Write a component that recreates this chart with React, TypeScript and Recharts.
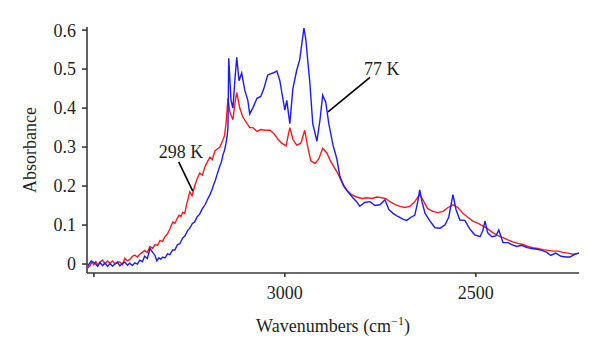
import { LineChart, Line, XAxis, YAxis, ReferenceLine, ReferenceDot } from "recharts";

// 77 K spectrum (blue)
const blueWn = [
  3516, 3507, 3497, 3490, 3484, 3477, 3471, 3464, 3458, 3451, 3445, 3438, 3432, 3425, 3419, 3412,
  3406, 3399, 3393, 3386, 3380, 3373, 3367, 3360, 3353, 3346, 3340, 3335, 3330, 3325, 3320, 3314,
  3307, 3301, 3294, 3288, 3281, 3275, 3268, 3262, 3255, 3249, 3242, 3236, 3229, 3223, 3216, 3209,
  3203, 3196, 3191, 3186, 3182, 3178, 3174, 3170, 3166, 3162, 3158, 3154, 3151, 3149,
  3147, 3141, 3136, 3131, 3126, 3120, 3113, 3105, 3097, 3092, 3084, 3073, 3063, 3055, 3045, 3031,
  3021, 3013, 3008, 3000, 2995, 2987, 2979, 2969, 2961, 2955, 2950, 2945, 2940, 2935, 2927, 2916,
  2908, 2901, 2893, 2885, 2874, 2864, 2856, 2846, 2835, 2822, 2812, 2804, 2791, 2777, 2764, 2751,
  2738, 2728, 2717, 2704, 2691, 2681, 2670, 2660, 2652, 2647, 2641, 2633, 2620, 2607, 2594, 2581,
  2571, 2560, 2552, 2542, 2529, 2516, 2503, 2489, 2482, 2476, 2469, 2458, 2448, 2440, 2429, 2416,
  2406, 2393, 2380, 2366, 2353, 2340, 2327, 2314, 2304, 2291, 2277, 2264, 2254, 2241, 2230,
];
const blueAbs = [
  -0.005, 0.008, 0.002, -0.006, 0.004, -0.004, 0.003, -0.006, 0.001, -0.005, 0.0, 0.004, -0.005, 0.002, 0.005, -0.003,
  0.002, -0.004, 0.003, 0.0, 0.01, 0.006, 0.02, 0.014, 0.04, 0.03, 0.022, 0.008, 0.016, 0.012, 0.018, 0.016,
  0.026, 0.024, 0.036, 0.036, 0.05, 0.052, 0.066, 0.072, 0.085, 0.092, 0.104, 0.108, 0.122, 0.128, 0.142, 0.152,
  0.165, 0.178, 0.19, 0.205, 0.215, 0.228, 0.24, 0.252, 0.262, 0.28, 0.292, 0.31, 0.33, 0.35,
  0.528, 0.42, 0.4, 0.47, 0.53, 0.47, 0.49, 0.446, 0.42, 0.385, 0.4, 0.425, 0.43, 0.45, 0.485, 0.49,
  0.495, 0.47, 0.44, 0.395, 0.42, 0.36, 0.45, 0.497, 0.525, 0.57, 0.605, 0.575, 0.52, 0.47, 0.36, 0.315,
  0.37, 0.433, 0.415, 0.36, 0.305, 0.27, 0.225, 0.2, 0.185, 0.17, 0.16, 0.148, 0.158, 0.16, 0.15, 0.152,
  0.165, 0.14, 0.13, 0.122, 0.115, 0.112, 0.12, 0.125, 0.16, 0.19, 0.16, 0.13, 0.11, 0.093, 0.092, 0.1,
  0.12, 0.178, 0.14, 0.113, 0.112, 0.09, 0.075, 0.07, 0.085, 0.11, 0.08, 0.07, 0.072, 0.087, 0.055, 0.055,
  0.05, 0.045, 0.048, 0.042, 0.04, 0.038, 0.035, 0.03, 0.022, 0.028, 0.02, 0.018, 0.018, 0.025, 0.028,
];

// 298 K spectrum (red)
const redWn = [
  3516, 3510, 3505, 3500, 3495, 3490, 3484, 3477, 3471, 3464, 3458, 3451, 3445, 3438, 3432, 3425,
  3419, 3412, 3406, 3399, 3393, 3386, 3380, 3373, 3367, 3360, 3353, 3346, 3340, 3333, 3327, 3320,
  3314, 3307, 3301, 3297, 3293, 3288, 3283, 3277, 3272, 3267, 3262, 3258, 3254, 3249, 3243, 3236,
  3229, 3223, 3216, 3209, 3203, 3196, 3190, 3183, 3177, 3170, 3166, 3162, 3158,
  3154, 3149, 3144, 3136, 3131, 3126, 3118, 3110, 3099, 3092, 3084, 3073, 3063, 3052, 3039, 3029,
  3018, 3008, 2997, 2987, 2979, 2969, 2958, 2948, 2940, 2932, 2921, 2911, 2901, 2890, 2882, 2872,
  2861, 2851, 2838, 2825, 2812, 2798, 2785, 2772, 2759, 2746, 2736, 2725, 2712, 2699, 2686, 2673,
  2660, 2647, 2636, 2626, 2613, 2599, 2586, 2573, 2560, 2547, 2534, 2521, 2508, 2495, 2482, 2469,
  2455, 2442, 2429, 2416, 2403, 2390, 2377, 2364, 2351, 2338, 2325, 2311, 2298, 2285, 2272, 2259,
  2246, 2230,
];
const redAbs = [
  -0.01, -0.004, 0.005, -0.002, 0.006, -0.003, 0.005, 0.01, 0.0, 0.008, 0.002, 0.008, 0.0, 0.006, 0.005, -0.002,
  0.015, 0.008, 0.012, 0.02, 0.023, 0.018, 0.025, 0.03, 0.035, 0.03, 0.045, 0.04, 0.05, 0.048, 0.06, 0.058,
  0.07, 0.078, 0.09, 0.1, 0.108, 0.104, 0.115, 0.125, 0.122, 0.133, 0.13, 0.15, 0.165, 0.185, 0.175, 0.2,
  0.22, 0.233, 0.228, 0.25, 0.262, 0.274, 0.268, 0.29, 0.295, 0.3, 0.31, 0.318, 0.33,
  0.36, 0.425, 0.39, 0.37, 0.41, 0.44, 0.4, 0.377, 0.36, 0.35, 0.35, 0.34, 0.345, 0.343, 0.343, 0.335,
  0.32, 0.31, 0.303, 0.35, 0.32, 0.305, 0.31, 0.343, 0.3, 0.265, 0.258, 0.27, 0.297, 0.285, 0.267, 0.25,
  0.232, 0.21, 0.19, 0.178, 0.172, 0.168, 0.17, 0.168, 0.172, 0.17, 0.168, 0.16, 0.153, 0.148, 0.145, 0.148,
  0.16, 0.178, 0.16, 0.142, 0.135, 0.132, 0.135, 0.145, 0.152, 0.145, 0.13, 0.12, 0.11, 0.105, 0.098, 0.09,
  0.08, 0.073, 0.068, 0.062, 0.057, 0.053, 0.05, 0.045, 0.042, 0.04, 0.037, 0.035, 0.033, 0.033, 0.03, 0.028,
  0.025, 0.028,
];

const xTicks = [3500, 3000, 2500];
const yTicks = [0, 0.1, 0.2, 0.3, 0.4, 0.5, 0.6];

const blueData = blueWn.map((wn, i) => ({ wn, abs: blueAbs[i] }));
const redData = redWn.map((wn, i) => ({ wn, abs: redAbs[i] }));

const FONT = "Liberation Serif";
const INK = "#231f20";
const AXIS = "#3a3a3a";
const txt = { fontFamily: FONT, fontSize: 18 };

export default function App() {
  return (
    <div style={{ width: 592, height: 339, fontFamily: FONT }}>
      <LineChart width={592} height={339} margin={{ top: 19, right: 21, bottom: 0, left: 0 }} style={{ fontFamily: FONT }}>
        <XAxis
          dataKey="wn"
          type="number"
          domain={[2230, 3518]}
          reversed
          allowDataOverflow
          ticks={xTicks}
          tickFormatter={(v: number) => (v === 3500 ? "" : String(v))}
          height={74}
          tickSize={4}
          tickMargin={9}
          stroke={AXIS}
          strokeWidth={1.6}
          tick={{ fill: INK, fontSize: 18, fontFamily: FONT, style: txt }}
          label={{
            content: () => (
              <text x={325} y={324} textAnchor="middle" fill={INK} style={txt}>
                Wavenumbers (cm<tspan dy={-7} fontSize={12}>−1</tspan><tspan dy={7}>)</tspan>
              </text>
            ),
          }}
        />
        <YAxis
          type="number"
          domain={[-0.023, 0.608]}
          allowDataOverflow
          ticks={yTicks}
          tickFormatter={(v: number) => (v === 0 ? "0" : v.toFixed(1))}
          width={79}
          tickSize={5}
          tickMargin={6}
          stroke={AXIS}
          strokeWidth={1.6}
          tick={{ fill: INK, fontSize: 18, fontFamily: FONT, style: txt }}
          label={{
            content: () => (
              <text x={28} y={142} transform="rotate(-90 28 142)" textAnchor="middle" fill={INK} style={txt}>
                Absorbance
              </text>
            ),
          }}
        />
        <Line
          data={redData}
          dataKey="abs"
          type="linear"
          stroke="#ff1a1a"
          strokeWidth={1.4}
          dot={false}
          isAnimationActive={false}
        />
        <Line
          data={blueData}
          dataKey="abs"
          type="linear"
          stroke="#1a1aff"
          strokeWidth={1.4}
          dot={false}
          isAnimationActive={false}
        />
        <ReferenceLine segment={[{ x: 2887, y: 0.39 }, { x: 2777, y: 0.479 }]} stroke="#000" strokeWidth={1.6} />
        <ReferenceLine segment={[{ x: 3278, y: 0.262 }, { x: 3241, y: 0.187 }]} stroke="#000" strokeWidth={1.6} />
        <ReferenceDot
          x={2793}
          y={0.485}
          shape={(p: { cx: number; cy: number }) => (
            <text x={p.cx} y={p.cy} fill={INK} style={txt}>
              77 K
            </text>
          )}
        />
        <ReferenceDot
          x={3272}
          y={0.272}
          shape={(p: { cx: number; cy: number }) => (
            <text x={p.cx} y={p.cy} textAnchor="middle" fill={INK} style={txt}>
              298 K
            </text>
          )}
        />
      </LineChart>
    </div>
  );
}
